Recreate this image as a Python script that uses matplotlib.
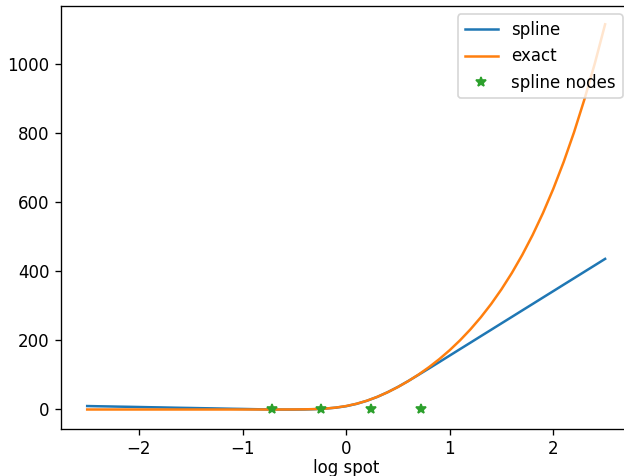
import numpy as np
import matplotlib
matplotlib.use("Agg")
import matplotlib.pyplot as plt

# log spot grid
log_spot = [-2.5, -2.4, -2.3, -2.2, -2.1, -2.0, -1.9, -1.8, -1.7, -1.6,
            -1.5, -1.4, -1.3, -1.2, -1.1, -1.0, -0.9, -0.8, -0.7, -0.6,
            -0.5, -0.4, -0.3, -0.2, -0.1, 0.0, 0.1, 0.2, 0.3, 0.4,
            0.5, 0.6, 0.7, 0.8, 0.9, 1.0, 1.1, 1.2, 1.3, 1.4,
            1.5, 1.6, 1.7, 1.8, 1.9, 2.0, 2.1, 2.2, 2.3, 2.4, 2.5]

spline_vals = [10.0, 9.4, 8.9, 8.3, 7.8, 7.2, 6.6, 6.1, 5.5, 4.9,
               4.4, 3.8, 3.3, 2.7, 2.1, 1.6, 1.0, 0.4, 0.0, -0.2,
               -0.2, 0.1, 1.0, 2.6, 5.3, 9.6, 16.3, 25.2, 36.4, 50.0,
               65.4, 82.5, 100.6, 118.9, 137.5, 156.2, 174.9, 193.5, 212.2, 230.8,
               249.5, 268.1, 286.8, 305.4, 324.1, 342.7, 361.4, 380.0, 398.7, 417.3,
               436.0]

exact_vals = [0.0, 0.0, 0.0, 0.0, 0.0, 0.0, 0.0, 0.0, 0.0, 0.0,
              0.0, 0.0, 0.0, 0.0, 0.0, 0.0, 0.0, 0.0, 0.0, 0.05,
              0.16, 0.47, 1.2, 2.7, 5.5, 10.0, 16.6, 25.4, 36.6, 49.9,
              65.1, 82.3, 101.4, 122.6, 146.0, 171.8, 200.4, 232.0, 266.9, 305.5,
              348.2, 395.3, 447.4, 505.0, 568.6, 638.9, 716.6, 802.5, 897.4, 1001.0,
              1115.0]

node_x = [-0.72, -0.24, 0.24, 0.72]
node_y = [0.0, 0.0, 0.0, 0.0]

W, H = 624, 476
fig = plt.figure(figsize=(W / 120, H / 120), dpi=120)
ax = fig.add_axes([61.3 / W, 47.5 / H, 569.7 / W, 422.5 / H])

ax.plot(log_spot, spline_vals, label='spline')
ax.plot(log_spot, exact_vals, label='exact')
ax.plot(node_x, node_y, '*', label='spline nodes')

ax.set_xlim(-2.75, 2.75)
ax.set_ylim(-55, 1168)
ax.set_xlabel('log spot', labelpad=0.5)
ax.legend(loc='upper right')

fig.savefig('out.png', dpi=120)
